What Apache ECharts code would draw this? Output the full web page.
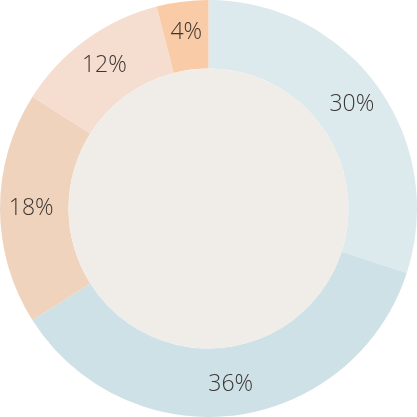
<!DOCTYPE html>
<html><head><meta charset="utf-8">
<script src="https://cdn.jsdelivr.net/npm/echarts@6/dist/echarts.min.js"></script>
<style>html,body{margin:0;padding:0;background:#fff}#c{width:417px;height:417px}</style>
</head><body><div id="c"></div>
<script>
const labels = ['30%', '36%', '18%', '12%', '4%'];
const values = [30, 36, 18, 12, 4];
const colors = ['#dce9ed', '#cee1e7', '#f0d3bd', '#f5ddd0', '#f9cba6'];
const chart = echarts.init(document.getElementById('c'));
chart.setOption({
  animation: false,
  series: [
    {
      type: 'pie', center: ['50%', '50%'], radius: [140, 208.5],
      startAngle: 90, clockwise: true, silent: true,
      label: { show: true, position: 'inside', formatter: p => labels[p.dataIndex],
        fontFamily: 'Open Sans', fontWeight: 300, fontSize: 23, color: '#3b3632' },
      labelLine: { show: false },
      itemStyle: { borderWidth: 0 },
      data: values.map((v, i) => ({ value: v, itemStyle: { color: colors[i] } }))
    },
    {
      type: 'pie', center: ['50%', '50%'], radius: [0, 140], silent: true,
      label: { show: false }, labelLine: { show: false },
      data: [{ value: 1, itemStyle: { color: '#f0ece8' } }]
    }
  ]
});
</script></body></html>
